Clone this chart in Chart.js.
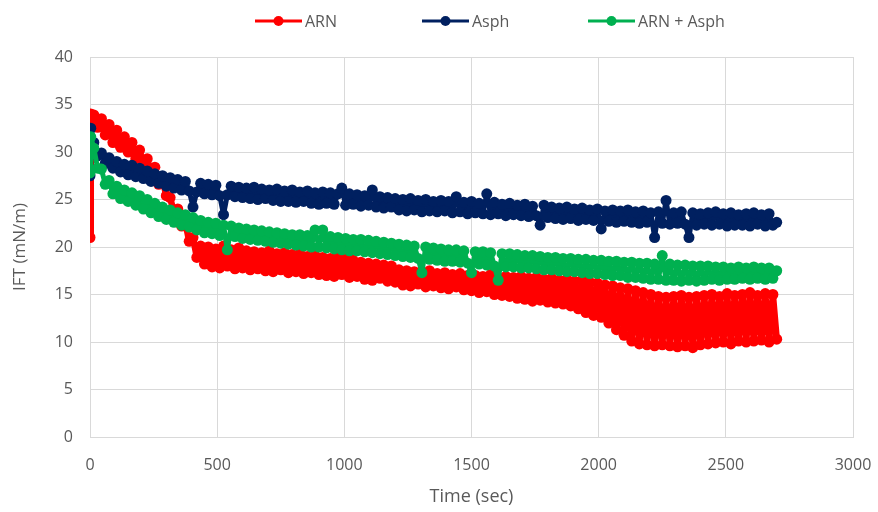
<!DOCTYPE html>
<html>
<head>
<meta charset="utf-8">
<script src="https://cdn.jsdelivr.net/npm/chart.js@4.4.1/dist/chart.umd.min.js"></script>
<style>
  html, body { margin: 0; padding: 0; background: #ffffff; }
  #wrap { width: 878px; height: 512px; position: relative; }
</style>
</head>
<body>
<div id="wrap"><canvas id="iftChart"></canvas></div>
<script>
// time axis (sec), shared by all three series
const timeSec = [0, 3,
  15, 30, 45, 60, 75, 90, 105, 120, 135, 150,
  165, 180, 195, 210, 225, 240, 255, 270, 285, 300,
  315, 330, 345, 360, 375, 390, 405, 420, 435, 450,
  465, 480, 495, 510, 525, 540, 555, 570, 585, 600,
  615, 630, 645, 660, 675, 690, 705, 720, 735, 750,
  765, 780, 795, 810, 825, 840, 855, 870, 885, 900,
  915, 930, 945, 960, 975, 990, 1005, 1020, 1035, 1050,
  1065, 1080, 1095, 1110, 1125, 1140, 1155, 1170, 1185, 1200,
  1215, 1230, 1245, 1260, 1275, 1290, 1305, 1320, 1335, 1350,
  1365, 1380, 1395, 1410, 1425, 1440, 1455, 1470, 1485, 1500,
  1515, 1530, 1545, 1560, 1575, 1590, 1605, 1620, 1635, 1650,
  1665, 1680, 1695, 1710, 1725, 1740, 1755, 1770, 1785, 1800,
  1815, 1830, 1845, 1860, 1875, 1890, 1905, 1920, 1935, 1950,
  1965, 1980, 1995, 2010, 2025, 2040, 2055, 2070, 2085, 2100,
  2115, 2130, 2145, 2160, 2175, 2190, 2205, 2220, 2235, 2250,
  2265, 2280, 2295, 2310, 2325, 2340, 2355, 2370, 2385, 2400,
  2415, 2430, 2445, 2460, 2475, 2490, 2505, 2520, 2535, 2550,
  2565, 2580, 2595, 2610, 2625, 2640, 2655, 2670, 2685, 2700
];

// IFT (mN/m)
const arnIft = [21, 34,
  33.9, 32.6, 33.5, 31.8, 32.9, 31.0, 32.3, 30.5, 31.6, 30.0,
  31.0, 29.3, 30.2, 28.5, 29.3, 27.6, 28.4, 26.6, 27.2, 25.4,
  25.2, 23.6, 24.0, 22.2, 22.6, 20.6, 21.0, 18.9, 20.1, 18.2,
  20.0, 17.9, 19.8, 17.8, 20.1, 18.0, 19.7, 17.7, 19.9, 17.8,
  19.6, 17.6, 19.5, 17.7, 19.4, 17.5, 19.6, 17.4, 19.3, 17.6,
  19.4, 17.3, 19.2, 17.4, 19.3, 17.2, 19.0, 17.3, 19.1, 17.1,
  18.9, 17.0, 18.8, 16.9, 19.0, 17.1, 18.7, 16.8, 18.6, 16.9,
  18.4, 16.6, 18.3, 16.5, 18.2, 16.7, 18.1, 16.4, 18.0, 16.3,
  17.6, 16.0, 17.5, 15.9, 17.4, 16.1, 17.3, 15.8, 17.5, 15.9,
  17.2, 15.7, 17.3, 15.6, 17.1, 15.8, 17.2, 15.5, 17.0, 15.4,
  17.0, 15.2, 16.9, 15.3, 17.1, 15.0, 16.8, 14.9, 16.9, 14.8,
  16.8, 14.6, 16.9, 14.5, 16.7, 14.3, 16.8, 14.4, 16.6, 14.2,
  16.7, 14.1, 16.5, 14.0, 16.6, 13.8, 16.4, 13.5, 16.5, 13.1,
  16.3, 12.8, 16.2, 12.6, 16.0, 12.0, 15.9, 11.3, 15.7, 10.7,
  15.6, 10.1, 15.4, 9.8, 15.2, 9.7, 15.0, 9.6, 14.8, 9.7,
  14.7, 9.6, 14.8, 9.5, 14.9, 9.6, 14.7, 9.4, 14.8, 9.7,
  14.9, 9.8, 15.0, 9.9, 14.8, 10.0, 15.1, 9.8, 14.9, 10.1,
  15.0, 10.0, 15.2, 10.1, 14.9, 10.2, 15.1, 10.0, 15.0, 10.3
];

const asphIft = [27.5, 32.5,
  31.0, 29.6, 29.9, 28.8, 29.4, 28.3, 29.0, 27.9, 28.7, 27.6,
  28.6, 27.4, 28.3, 27.2, 28.0, 26.9, 27.7, 26.7, 27.5, 26.4,
  27.3, 26.2, 27.1, 26.0, 26.9, 25.9, 24.2, 25.8, 26.7, 25.6,
  26.6, 25.5, 26.5, 25.4, 23.4, 25.5, 26.4, 25.3, 26.3, 25.2,
  26.2, 25.1, 26.3, 25.0, 26.1, 25.1, 26.0, 24.9, 26.1, 24.8,
  25.9, 24.8, 26.0, 24.7, 25.8, 24.8, 25.9, 24.6, 25.7, 24.5,
  25.8, 24.6, 25.7, 24.5, 25.6, 26.2, 24.4, 25.6, 24.5, 25.5,
  24.3, 25.4, 24.4, 26.0, 24.2, 25.3, 24.1, 25.2, 24.2, 25.1,
  23.9, 25.0, 23.8, 25.1, 23.9, 24.9, 23.7, 25.0, 23.8, 24.8,
  23.7, 24.9, 23.8, 24.8, 23.6, 25.3, 23.7, 24.7, 23.5, 24.8,
  23.6, 24.6, 23.5, 25.6, 23.4, 24.7, 23.5, 24.5, 23.3, 24.6,
  23.4, 24.4, 23.3, 24.5, 23.2, 24.3, 23.3, 22.3, 24.4, 23.1,
  24.2, 23.0, 24.1, 22.9, 24.2, 23.0, 24.0, 22.8, 24.1, 22.9,
  23.9, 22.8, 24.0, 21.9, 23.8, 22.7, 23.9, 22.6, 23.8, 22.7,
  23.9, 22.6, 23.7, 22.5, 23.8, 22.6, 23.6, 21.0, 23.7, 22.5,
  24.9, 22.4, 23.6, 22.5, 23.7, 22.4, 21.0, 23.6, 22.3, 23.5,
  22.4, 23.6, 22.3, 23.7, 22.4, 23.5, 22.2, 23.6, 22.3, 23.4,
  22.3, 23.5, 22.2, 23.6, 22.4, 23.4, 22.2, 23.5, 22.3, 22.6
];

const mixIft = [27.8, 31.6,
  30.4, 28.3, 28.2, 26.6, 27.0, 25.6, 26.4, 25.1, 26.0, 24.8,
  25.7, 24.4, 25.4, 24.0, 25.0, 23.6, 24.6, 23.2, 24.2, 22.9,
  23.9, 22.6, 23.6, 22.3, 23.4, 22.1, 23.1, 21.8, 22.8, 21.5,
  22.6, 21.4, 22.5, 21.2, 22.3, 19.7, 22.2, 21.1, 22.0, 20.9,
  21.9, 20.8, 21.8, 20.7, 21.7, 20.6, 21.6, 20.5, 21.5, 20.4,
  21.4, 20.3, 21.3, 20.2, 21.3, 20.1, 21.2, 20.0, 21.8, 20.0,
  21.8, 19.9, 21.1, 19.8, 21.0, 19.7, 20.9, 19.6, 20.8, 19.6,
  20.8, 19.5, 20.7, 19.4, 20.6, 19.3, 20.5, 19.2, 20.4, 19.1,
  20.3, 19.0, 20.2, 18.9, 20.1, 18.8, 17.3, 20.0, 18.7, 19.9,
  18.6, 19.8, 18.5, 19.7, 18.5, 19.7, 18.4, 19.6, 18.3, 17.3,
  19.5, 18.2, 19.5, 18.1, 19.4, 18.0, 16.5, 19.3, 17.9, 19.3,
  17.9, 19.2, 17.8, 19.1, 17.8, 19.1, 17.7, 19.0, 17.6, 18.9,
  17.6, 18.9, 17.5, 18.8, 17.4, 18.8, 17.4, 18.7, 17.3, 18.7,
  17.2, 18.6, 17.2, 18.6, 17.1, 18.5, 17.0, 18.5, 17.0, 18.4,
  16.8, 18.4, 16.8, 18.3, 16.7, 18.3, 16.6, 18.2, 16.6, 19.1,
  16.5, 18.2, 16.5, 18.1, 16.4, 18.1, 16.5, 18.0, 16.4, 18.0,
  16.5, 18.0, 16.6, 17.9, 16.5, 17.9, 16.6, 17.8, 16.6, 17.9,
  16.7, 17.8, 16.6, 17.9, 16.7, 17.8, 16.6, 17.8, 16.7, 17.5
];

const seriesNames = ["ARN", "Asph", "ARN + Asph"];
const seriesColors = ["#FF0000", "#002060", "#00B050"];
const seriesValues = [arnIft, asphIft, mixIft];
const seriesLineWidth = [6.5, 5, 5];

const FONT = "'Open Sans', sans-serif";
const TEXT_COLOR = "#595959";
const GRID_COLOR = "#d9d9d9";

// legend drawn by hand: line with a dot, then the name
const legendLeft = [255, 422, 588];
const legendPlugin = {
  id: "lineDotLegend",
  afterDraw(chart) {
    const ctx = chart.ctx;
    const y = 21;
    ctx.save();
    ctx.font = "16px " + FONT;
    ctx.textBaseline = "middle";
    ctx.textAlign = "left";
    seriesNames.forEach((name, i) => {
      const x0 = legendLeft[i];
      ctx.strokeStyle = seriesColors[i];
      ctx.lineWidth = 3;
      ctx.beginPath();
      ctx.moveTo(x0, y);
      ctx.lineTo(x0 + 47, y);
      ctx.stroke();
      ctx.fillStyle = seriesColors[i];
      ctx.beginPath();
      ctx.arc(x0 + 23.5, y, 5, 0, Math.PI * 2);
      ctx.fill();
      ctx.fillStyle = TEXT_COLOR;
      ctx.fillText(name, x0 + 50, y + 1);
    });
    ctx.restore();
  },
};

function toPoints(values) {
  return values.map((v, i) => ({ x: timeSec[i], y: v }));
}

const datasets = seriesNames.map((name, i) => ({
  label: name,
  data: toPoints(seriesValues[i]),
  borderColor: seriesColors[i],
  backgroundColor: seriesColors[i],
  pointBackgroundColor: seriesColors[i],
  pointBorderColor: seriesColors[i],
  borderWidth: seriesLineWidth[i],
  borderJoinStyle: "round",
  borderCapStyle: "round",
  pointRadius: 5.5,
  pointBorderWidth: 0,
  pointStyle: "circle",
  showLine: true,
  tension: 0,
  order: 3 - i, // later series drawn on top
}));

new Chart(document.getElementById("iftChart"), {
  type: "scatter",
  data: { datasets: datasets },
  plugins: [legendPlugin],
  options: {
    responsive: true,
    maintainAspectRatio: false,
    animation: false,
    layout: { padding: { left: 8, right: 25, top: 57, bottom: 4 } },
    plugins: {
      tooltip: { enabled: false },
      legend: { display: false },
    },
    scales: {
      x: {
        type: "linear",
        min: 0,
        max: 3000,
        afterFit: (scale) => {
          scale.height = 71;
          scale.paddingLeft = 0;
          scale.paddingRight = 0;
        },
        ticks: {
          stepSize: 500,
          color: TEXT_COLOR,
          font: { family: FONT, size: 16 },
          padding: 19,
          callback: (v) => String(v),
        },
        grid: { color: GRID_COLOR, drawTicks: false },
        border: { color: GRID_COLOR },
        title: { display: true, text: "Time (sec)", color: TEXT_COLOR, font: { family: FONT, size: 18 }, padding: { top: 0, bottom: 0 } },
      },
      y: {
        min: 0,
        max: 40,
        afterFit: (scale) => { scale.width = 82; },
        ticks: { stepSize: 5, color: TEXT_COLOR, font: { family: FONT, size: 16 }, padding: 17 },
        grid: { color: GRID_COLOR, drawTicks: false },
        border: { color: GRID_COLOR },
        title: { display: true, text: "IFT (mN/m)", color: TEXT_COLOR, font: { family: FONT, size: 17 }, padding: { top: 2, bottom: 0 } },
      },
    },
  },
});
</script>
</body>
</html>
